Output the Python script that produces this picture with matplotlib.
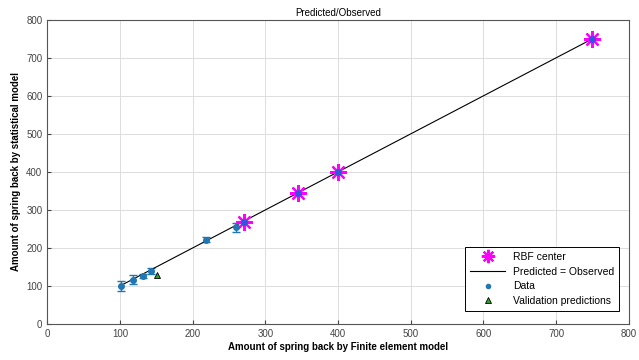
import matplotlib
matplotlib.use("Agg")
import matplotlib.pyplot as plt
import numpy as np

plt.rcParams['font.family'] = ['Liberation Sans', 'DejaVu Sans']

# data
data_x = [101, 118, 132, 142, 219, 259]
data_y = [100, 117, 127, 139, 222, 254]
data_err = [12, 13, 5, 8, 6, 12]
rbf_x = [270, 345, 400, 750]
rbf_y = [268, 344, 400, 750]
val_x = [151]
val_y = [130]
line_x = [100, 750]

fig, ax = plt.subplots(figsize=(6.39, 3.6), dpi=100)
fig.subplots_adjust(left=0.074, right=0.984, bottom=0.1, top=0.945)

ax.errorbar(data_x, data_y, yerr=data_err, fmt='none', ecolor='#1f77b4',
            elinewidth=1, capsize=3, zorder=2)
ax.plot(rbf_x, rbf_y, linestyle='none', marker=(8, 2, 0), markersize=12,
        markeredgecolor='#ff00ff', markeredgewidth=1.6, zorder=4,
        label='RBF center')
ax.plot(rbf_x, rbf_y, 'o', color='#3355dd', markersize=4, zorder=5)
ax.plot(line_x, line_x, color='black', linewidth=0.8, zorder=3,
        label='Predicted = Observed')
ax.plot(data_x, data_y, 'o', color='#1f77b4', markersize=4, zorder=4,
        label='Data')
ax.plot(val_x, val_y, '^', color='#2ca02c', markeredgecolor='black',
        markeredgewidth=0.6, markersize=5, zorder=4,
        label='Validation predictions')

ax.set_xlim(0, 800)
ax.set_ylim(0, 800)
ax.set_xticks(np.arange(0, 801, 100))
ax.set_yticks(np.arange(0, 801, 100))
ax.tick_params(labelsize=7, direction='in', length=3, colors='#444444')
for s in ax.spines.values():
    s.set_color('#555555')
ax.grid(True, color='#dddddd', linewidth=0.7)
ax.set_axisbelow(True)
ax.set_title('Predicted/Observed', fontsize=7, pad=3)
ax.set_xlabel('Amount of spring back by Finite element model', fontsize=7,
              fontweight='bold', labelpad=2)
ax.set_ylabel('Amount of spring back by statistical model', fontsize=7,
              fontweight='bold', labelpad=4)

leg = ax.legend(loc='lower right', fontsize=7.5, fancybox=False,
                edgecolor='black', framealpha=1, borderpad=0.5,
                labelspacing=0.45, handlelength=3.3, markerscale=0.8,
                bbox_to_anchor=(0.993, 0.025))
leg.get_frame().set_linewidth(0.7)
leg.legend_handles[2].set_markersize(3)

fig.savefig('out.png', dpi=100)
